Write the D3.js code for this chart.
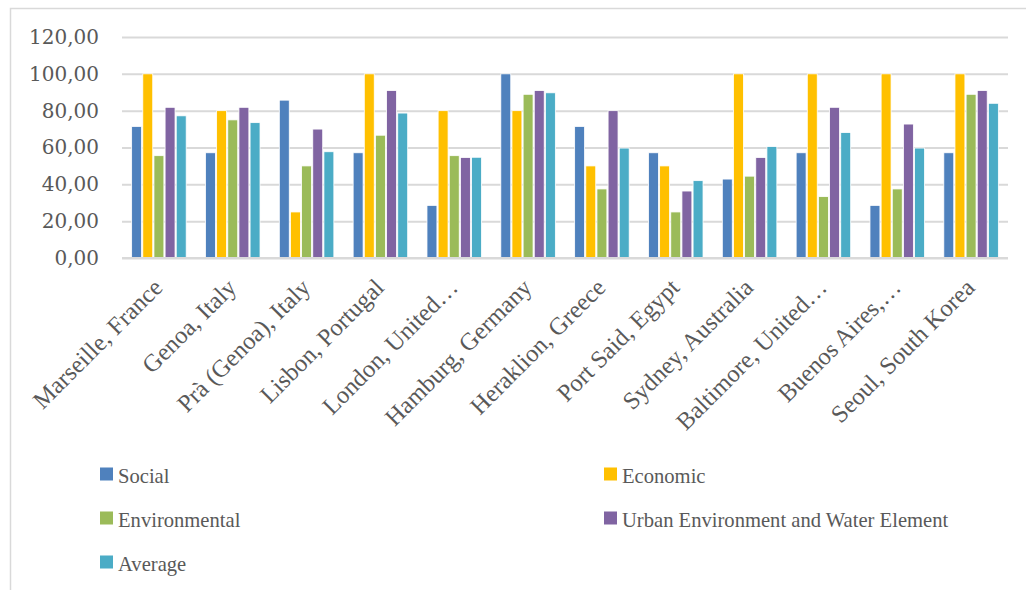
<!DOCTYPE html>
<html>
<head>
<meta charset="utf-8">
<script src="https://cdn.jsdelivr.net/npm/d3@7"></script>
<style>
body{margin:0;background:#fff;}
text{font-family:"Liberation Serif",serif;fill:#595959;}
</style>
</head>
<body>
<div id="chart"></div>
<script>
// port cities and index scores
var cities = ["Marseille, France","Genoa, Italy","Prà (Genoa), Italy","Lisbon, Portugal",
  "London, United…","Hamburg, Germany","Heraklion, Greece","Port Said, Egypt",
  "Sydney, Australia","Baltimore, United…","Buenos Aires,…","Seoul, South Korea"];
var seriesNames = ["Social","Economic","Environmental","Urban Environment and Water Element","Average"];
var social        = [71.43,57.14,85.71,57.14,28.57,100,71.43,57.14,42.86,57.14,28.57,57.14];
var economic      = [100,80,25,100,80,80,50,50,100,100,100,100];
var environmental = [55.56,75,50,66.67,55.56,88.89,37.5,25,44.44,33.33,37.5,88.89];
var urban         = [81.82,81.82,70,90.91,54.55,90.91,80,36.36,54.55,81.82,72.73,90.91];
var average       = [77.2,73.5,57.7,78.7,54.7,89.7,59.7,42,60.5,68.1,59.7,84];
var yTicks = [0,20,40,60,80,100,120];
var colors = ["#4F81BD","#FFC000","#9BBB59","#8064A2","#4BACC6"];

var allSeries = [social,economic,environmental,urban,average];

var W = 1026, H = 590;
var margin = {top:37,right:18,bottom:332,left:122},
w = W - margin.left - margin.right,
h = H - margin.top - margin.bottom;

var svg = d3.select("#chart").append("svg")
  .attr("width",W).attr("height",H);

// chart frame
svg.append("rect")
  .attr("x",10.5).attr("y",8.5)
  .attr("width",W+20).attr("height",H+20)
  .attr("fill","none").attr("stroke","#d9d9d9").attr("stroke-width",1.5);

var g = svg.append("g")
  .attr("transform",`translate(${margin.left},${margin.top})`);

var x0 = d3.scaleBand().domain(cities).range([0,w])
  .paddingInner(0.245).paddingOuter(0.1225);
var x1 = d3.scaleBand().domain(d3.range(5)).range([0,x0.bandwidth()]);
var y = d3.scaleLinear().domain([0,120]).range([h,0]);

// gridlines + labels
var yAxis = g.append("g")
  .call(d3.axisLeft(y).tickValues(yTicks).tickSize(-w)
    .tickFormat(function(d){ return d3.format(".2f")(d).replace(".",","); }));
yAxis.select(".domain").remove();
yAxis.selectAll(".tick line").attr("stroke","#d9d9d9").attr("stroke-width",2);
yAxis.selectAll(".tick text").attr("x",-23)
  .style("font-family","'DejaVu Serif',serif").style("font-size","20px").attr("fill","#595959");

// bars
var grp = g.selectAll(".city").data(cities).enter().append("g")
  .attr("transform",function(d){ return `translate(${x0(d)},0)`; });
grp.selectAll("rect")
  .data(function(d,i){ return allSeries.map(function(s,k){ return {k:k,v:s[i]}; }); })
  .enter().append("rect")
  .attr("x",function(d){ return x1(d.k)+0.6; })
  .attr("width",x1.bandwidth()-1.2)
  .attr("y",function(d){ return y(d.v); })
  .attr("height",function(d){ return h - y(d.v); })
  .attr("fill",function(d){ return colors[d.k]; })
  .attr("stroke","#fff").attr("stroke-width",0.8);

// base line
g.append("line").attr("x1",0).attr("x2",w).attr("y1",h).attr("y2",h)
  .attr("stroke","#d9d9d9").attr("stroke-width",2);

// category labels
var xAxis = g.append("g").attr("transform",`translate(0,${h})`)
  .call(d3.axisBottom(x0).tickSize(0));
xAxis.select(".domain").remove();
xAxis.selectAll(".tick text")
  .attr("text-anchor","end")
  .attr("x",0).attr("y",0).attr("dy",0)
  .attr("transform","translate(5,31) rotate(-45)")
  .style("font-size","24.5px").attr("fill","#595959");

// legend
var legX = [100,604], legY = [474,518,562];
var leg = svg.selectAll(".leg").data(seriesNames).enter().append("g")
  .attr("transform",function(d,i){ return `translate(${legX[i%2]},${legY[Math.floor(i/2)]})`; });
leg.append("rect").attr("x",0).attr("y",-6.5).attr("width",13).attr("height",13)
  .attr("fill",function(d,i){ return colors[i]; });
leg.append("text").attr("x",18).attr("y",8.5)
  .style("font-size","20.6px").text(function(d){ return d; });
</script>
</body>
</html>
